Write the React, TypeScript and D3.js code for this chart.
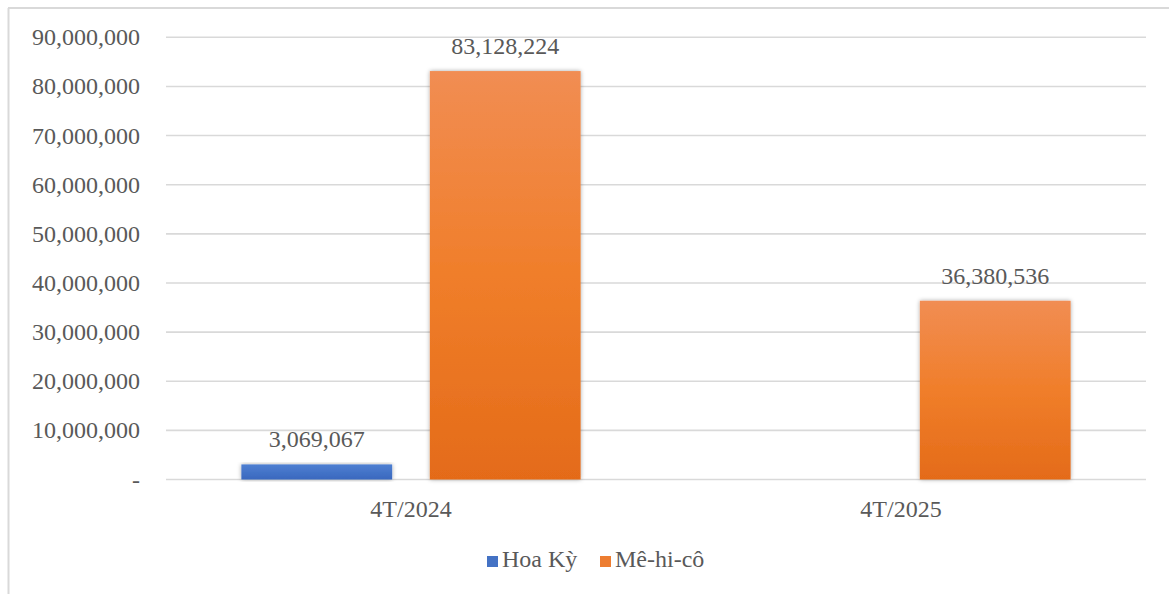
import React from "react";
import * as d3 from "d3";

const categories = ["4T/2024", "4T/2025"];
const seriesNames = ["Hoa Kỳ", "Mê-hi-cô"];
const hoaKy: (number | null)[] = [3069067, null];
const mexico: (number | null)[] = [83128224, 36380536];
const yTicks = [0, 10000000, 20000000, 30000000, 40000000, 50000000, 60000000, 70000000, 80000000, 90000000];

const W = 1169;
const H = 594;
const FONT = '"Liberation Serif", "Tinos", "Times New Roman", "DejaVu Serif", serif';
const TEXT = "#595959";
const ts: React.CSSProperties = { fontFamily: FONT, fontSize: "24px" };

export default function App() {
  const x0 = d3.scaleBand<string>().domain(categories).range([166, 1146]).paddingInner(0).paddingOuter(0);
  const y = d3.scaleLinear().domain([0, 90000000]).range([479.5, 37.3]);
  const bandW = x0.bandwidth();
  const barW = bandW / (2 + 0.25 + 1.0); // gap width 100%, overlap -25%
  const x1 = d3.scaleOrdinal<string, number>().domain(seriesNames).range([-barW * 1.125, barW * 0.125]);
  const fmt = d3.format(",");
  const series = [
    { name: seriesNames[0], values: hoaKy, grad: "gBlue", color: "#4472C4" },
    { name: seriesNames[1], values: mexico, grad: "gOrange", color: "#ED7D31" },
  ];
  const legendItems = [
    { name: seriesNames[0], color: "#4472C4", x: 487 },
    { name: seriesNames[1], color: "#ED7D31", x: 600 },
  ];

  return (
    <svg width={W} height={H} style={{ position: "absolute", left: 0, top: 0, background: "#fff" }}>
      <defs>
        <linearGradient id="gOrange" x1="0" y1="0" x2="0" y2="1">
          <stop offset="0" stopColor="#F18D53" />
          <stop offset="0.5" stopColor="#F07E2A" />
          <stop offset="1" stopColor="#E46B19" />
        </linearGradient>
        <linearGradient id="gBlue" x1="0" y1="0" x2="0" y2="1">
          <stop offset="0" stopColor="#4E7FD2" />
          <stop offset="1" stopColor="#3A68BE" />
        </linearGradient>
        <filter id="shadow" x="-10%" y="-10%" width="120%" height="120%">
          <feDropShadow dx="0" dy="0" stdDeviation="2" floodColor="#000" floodOpacity="0.35" />
        </filter>
      </defs>
      <rect x={0} y={0} width={W} height={H} fill="#fff" />
      {/* outer border */}
      <line x1={8.5} y1={8} x2={8.5} y2={H} stroke="#d9d9d9" strokeWidth={2} />
      <line x1={8} y1={8} x2={W} y2={8} stroke="#d9d9d9" strokeWidth={2} />
      {/* gridlines */}
      {yTicks.map((t) => (
        <line key={t} x1={166} x2={1146} y1={y(t)} y2={y(t)} stroke="#d9d9d9" strokeWidth={1.6} />
      ))}
      {/* y labels */}
      {yTicks.map((t) => (
        <text key={"l" + t} x={140} y={y(t) + 8} textAnchor="end" style={ts} fill={TEXT}>
          {t === 0 ? "-" : fmt(t)}
        </text>
      ))}
      {/* bars */}
      {series.map((s) =>
        categories.map((c, i) => {
          const v = s.values[i];
          if (v == null) return null;
          const bx = (x0(c) as number) + bandW / 2 + x1(s.name);
          const by = y(v);
          return (
            <g key={s.name + c}>
              <rect x={bx} y={by} width={barW} height={y(0) - by} fill={`url(#${s.grad})`} filter="url(#shadow)" />
              <text x={bx + barW / 2} y={by - 17} textAnchor="middle" style={ts} fill={TEXT}>
                {fmt(v)}
              </text>
            </g>
          );
        })
      )}
      {/* category labels */}
      {categories.map((c) => (
        <text key={c} x={(x0(c) as number) + bandW / 2} y={517} textAnchor="middle" style={ts} fill={TEXT}>
          {c}
        </text>
      ))}
      {/* legend */}
      {legendItems.map((l) => (
        <g key={l.name}>
          <rect x={l.x} y={556} width={11} height={11} fill={l.color} />
          <text x={l.x + 15} y={567} style={ts} fill={TEXT}>
            {l.name}
          </text>
        </g>
      ))}
    </svg>
  );
}
